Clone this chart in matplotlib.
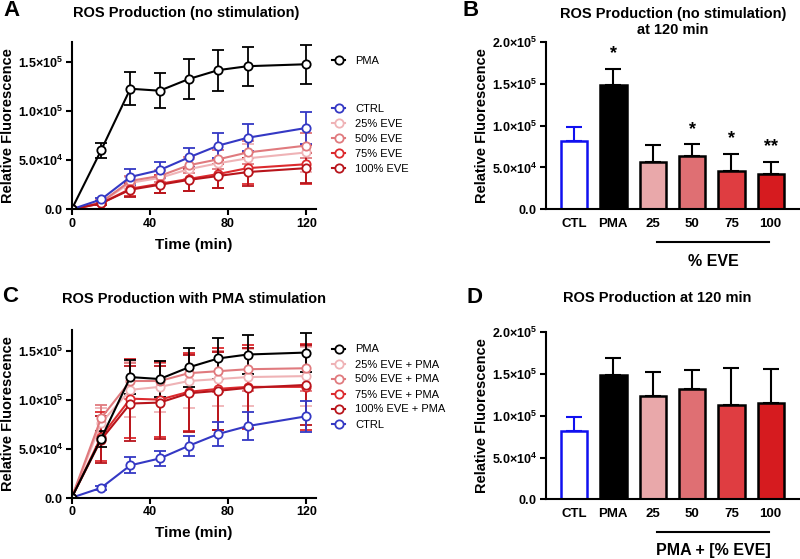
import numpy as np
import matplotlib
matplotlib.use('Agg')
import matplotlib.pyplot as plt
from matplotlib.ticker import FuncFormatter

plt.rcParams['font.family'] = ['Liberation Sans', 'DejaVu Sans']
plt.rcParams['mathtext.fontset'] = 'custom'
plt.rcParams['mathtext.rm'] = 'Liberation Sans'
plt.rcParams['mathtext.bf'] = 'Liberation Sans:bold'

# ---- data ----
time = [0, 15, 30, 45, 60, 75, 90, 120]

# panel A (no stimulation)
pma = [0, 6.0e4, 1.23e5, 1.21e5, 1.33e5, 1.42e5, 1.46e5, 1.48e5]
pma_err = [0, 8e3, 1.7e4, 1.8e4, 2.0e4, 2.1e4, 2.0e4, 2.0e4]
ctrl = [0, 1.0e4, 3.3e4, 4.0e4, 5.3e4, 6.5e4, 7.3e4, 8.3e4]
ctrl_err = [0, 2e3, 8e3, 8e3, 1.0e4, 1.25e4, 1.4e4, 1.6e4]
eve_a = {
    '25% EVE': [0, 7e3, 2.7e4, 3.2e4, 4.1e4, 4.7e4, 5.2e4, 5.8e4],
    '50% EVE': [0, 7e3, 2.9e4, 3.4e4, 4.5e4, 5.1e4, 5.8e4, 6.5e4],
    '75% EVE': [0, 6e3, 2.1e4, 2.6e4, 3.1e4, 3.6e4, 4.2e4, 4.6e4],
    '100% EVE': [0, 6e3, 2.0e4, 2.5e4, 3.0e4, 3.4e4, 3.8e4, 4.2e4],
}
eve_a_err = {
    '25% EVE': [0, 2e3, 6e3, 7e3, 1.0e4, 1.3e4, 1.5e4, 2.0e4],
    '50% EVE': [0, 2e3, 5e3, 6e3, 8e3, 1.0e4, 1.2e4, 1.3e4],
    '75% EVE': [0, 2e3, 7e3, 9e3, 1.2e4, 1.4e4, 1.6e4, 2.0e4],
    '100% EVE': [0, 2e3, 7e3, 8e3, 1.1e4, 1.2e4, 1.4e4, 1.5e4],
}

# panel C (with PMA)
eve_c = {
    '25% EVE + PMA': [0, 7.6e4, 1.10e5, 1.13e5, 1.19e5, 1.21e5, 1.23e5, 1.24e5],
    '50% EVE + PMA': [0, 8.1e4, 1.19e5, 1.19e5, 1.27e5, 1.29e5, 1.31e5, 1.32e5],
    '75% EVE + PMA': [0, 6.2e4, 1.01e5, 1.00e5, 1.08e5, 1.11e5, 1.13e5, 1.13e5],
    '100% EVE + PMA': [0, 5.9e4, 9.6e4, 9.7e4, 1.065e5, 1.09e5, 1.12e5, 1.15e5],
}
eve_c_err = {
    '25% EVE + PMA': [0, 1.5e4, 2.8e4, 2.6e4, 2.8e4, 2.8e4, 2.9e4, 3.0e4],
    '50% EVE + PMA': [0, 1.4e4, 1.8e4, 1.8e4, 2.0e4, 2.1e4, 2.2e4, 2.3e4],
    '75% EVE + PMA': [0, 2.5e4, 4.0e4, 3.8e4, 4.0e4, 4.2e4, 4.3e4, 4.4e4],
    '100% EVE + PMA': [0, 2.4e4, 3.8e4, 3.7e4, 3.9e4, 4.0e4, 4.1e4, 4.1e4],
}

# bar panels
bar_cats = ['CTL', 'PMA', '25', '50', '75', '100']
bar_b = [8.2e4, 1.48e5, 5.7e4, 6.4e4, 4.6e4, 4.2e4]
bar_b_err = [1.6e4, 2.0e4, 2.0e4, 1.35e4, 2.0e4, 1.5e4]
sig_b = ['', '*', '', '*', '*', '**']
bar_d = [8.2e4, 1.485e5, 1.24e5, 1.32e5, 1.13e5, 1.155e5]
bar_d_err = [1.7e4, 2.05e4, 2.9e4, 2.3e4, 4.4e4, 4.1e4]

line_cols = ['#efb3b6', '#e07a7e', '#dc2a2e', '#b8141b']
bar_cols = ['white', 'black', '#e9a8aa', '#df6f73', '#df3d41', '#d61b1f']
blue_line = '#3438c4'
blue_bar = '#1010f0'


def box(l, t, r, b):
    return [l / 800, 1 - b / 559, (r - l) / 800, (b - t) / 559]


def sci(v, pos):
    if v == 0:
        return r'$\mathbf{0.0}$'
    e = int(np.floor(np.log10(v)))
    m = v / 10 ** e
    return r'$\mathbf{%.1f{\times}10^{%d}}$' % (m, e)


def style(ax):
    for s in ['top', 'right']:
        ax.spines[s].set_visible(False)
    for s in ['left', 'bottom']:
        ax.spines[s].set_linewidth(1.5)
    ax.tick_params(width=1.5, length=4, labelsize=9, pad=2)
    ax.yaxis.set_major_formatter(FuncFormatter(sci))
    for lab in ax.get_xticklabels():
        lab.set_fontweight('bold')
    ax.set_ylabel('Relative Fluorescence', fontsize=10.5, fontweight='bold', labelpad=2)


def line(ax, y, err, col, label):
    c = ax.errorbar(time, y, yerr=err, color=col, lw=1.5, marker='o', ms=6,
                    mfc='white', mec=col, mew=1.3, capsize=4.5, elinewidth=1.3,
                    capthick=1.3, label=label)
    return c[0]


fig = plt.figure(figsize=(8, 5.59), dpi=100)

# ---- panel A ----
axA = fig.add_axes(box(71.7, 41.7, 316, 209.3))
hA = []
for name, col in zip(eve_a, line_cols):
    hA.append(line(axA, eve_a[name], eve_a_err[name], col, name))
h_ctrl = line(axA, ctrl, ctrl_err, blue_line, 'CTRL')
h_pma = line(axA, pma, pma_err, 'black', 'PMA')
axA.set_xlim(0, 125)
axA.set_ylim(0, 1.71e5)
axA.set_xticks([0, 40, 80, 120])
axA.set_yticks([0, 5e4, 1e5, 1.5e5])
style(axA)
axA.set_xlabel('Time (min)', fontsize=11, fontweight='bold', labelpad=6)
leg_kw = dict(frameon=False, fontsize=8, handlelength=1.2, handletextpad=0.9,
              labelspacing=0.45, borderpad=0, borderaxespad=0, loc='upper left',
              bbox_transform=fig.transFigure)
l1 = axA.legend([h_pma], ['PMA'], bbox_to_anchor=(332 / 800, 1 - 56 / 559), **leg_kw)
axA.add_artist(l1)
axA.legend([h_ctrl] + hA, ['CTRL'] + list(eve_a), bbox_to_anchor=(332 / 800, 1 - 104 / 559), **leg_kw)

# ---- panel C ----
axC = fig.add_axes(box(71.7, 330, 316, 497.7))
hC = []
for name, col in zip(eve_c, line_cols):
    hC.append(line(axC, eve_c[name], eve_c_err[name], col, name))
h_ctrl_c = line(axC, ctrl, ctrl_err, blue_line, 'CTRL')
h_pma_c = line(axC, pma, pma_err, 'black', 'PMA')
axC.set_xlim(0, 125)
axC.set_ylim(0, 1.71e5)
axC.set_xticks([0, 40, 80, 120])
axC.set_yticks([0, 5e4, 1e5, 1.5e5])
style(axC)
axC.set_xlabel('Time (min)', fontsize=11, fontweight='bold', labelpad=6)
axC.legend([h_pma_c] + hC + [h_ctrl_c], ['PMA'] + list(eve_c) + ['CTRL'],
           bbox_to_anchor=(332 / 800, 1 - 344.5 / 559), **leg_kw)


# ---- bar panels ----
def bars(ax, vals, errs):
    x = np.arange(len(bar_cats))
    edges = [blue_bar] + ['black'] * 5
    ax.bar(x, vals, width=0.67, color=bar_cols, edgecolor=edges, linewidth=1.8, zorder=2)
    for i in range(len(x)):
        ax.errorbar(x[i], vals[i], yerr=[[0], [errs[i]]], color=edges[i], lw=1.5,
                    capsize=6, capthick=1.5, zorder=1)
    ax.set_xlim(-0.72, 5.72)
    ax.set_ylim(0, 2e5)
    ax.set_yticks([0, 5e4, 1e5, 1.5e5, 2e5])
    ax.set_xticks(x)
    ax.set_xticklabels(bar_cats, fontsize=9.5, fontweight='bold')
    style(ax)
    ax.tick_params(axis='x', length=0, pad=6, labelsize=9.5)


axB = fig.add_axes(box(545.7, 41.7, 799, 209.3))
bars(axB, bar_b, bar_b_err)
for i, s in enumerate(sig_b):
    if s:
        axB.text(i, bar_b[i] + bar_b_err[i] + 0.08e5, s, ha='center', va='bottom',
                 fontsize=13, fontweight='bold')

axD = fig.add_axes(box(545.7, 332.3, 799, 499.3))
bars(axD, bar_d, bar_d_err)

# group lines under bar panels
fig.add_artist(plt.Line2D([656.7 / 800, 769.3 / 800], [1 - 242.3 / 559] * 2, color='black', lw=1.5))
fig.text(713 / 800, 1 - 261.7 / 559, '% EVE', ha='center', va='center', fontsize=11.5, fontweight='bold')
fig.add_artist(plt.Line2D([656.7 / 800, 769.3 / 800], [1 - 532.3 / 559] * 2, color='black', lw=1.5))
fig.text(713 / 800, 1 - 550 / 559, 'PMA + [% EVE]', ha='center', va='center', fontsize=11.5, fontweight='bold')

# titles and panel letters
tkw = dict(ha='center', va='center', fontsize=10.5, fontweight='bold')
fig.text(186 / 800, 1 - 13 / 559, 'ROS Production (no stimulation)', **tkw)
fig.text(672.7 / 800, 1 - 22 / 559, 'ROS Production (no stimulation)\nat 120 min', linespacing=1.2, **tkw)
fig.text(194 / 800, 1 - 299.3 / 559, 'ROS Production with PMA stimulation', **tkw)
fig.text(657.5 / 800, 1 - 298.3 / 559, 'ROS Production at 120 min', **tkw)
for s, x, y in [('A', 11, 11), ('B', 471, 11), ('C', 10, 296), ('D', 475, 297.5)]:
    fig.text(x / 800, 1 - y / 559, s, ha='center', va='center', fontsize=16, fontweight='bold')

fig.savefig('out.png', dpi=100)
